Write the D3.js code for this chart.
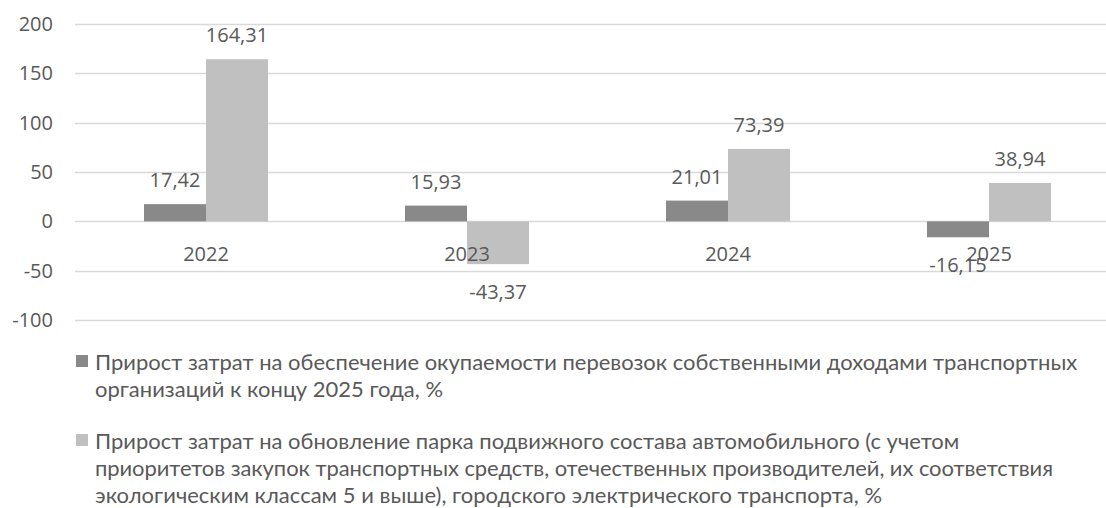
<!DOCTYPE html>
<html><head><meta charset="utf-8">
<script src="https://cdn.jsdelivr.net/npm/d3@7"></script>
<style>body{margin:0;background:#fff;overflow:hidden}</style>
</head><body>
<svg id="c" width="1106" height="508"></svg>
<script>
const categories = ["2022","2023","2024","2025"];
const series1Name = ["Прирост затрат на обеспечение окупаемости перевозок собственными доходами транспортных","организаций к концу 2025 года, %"];
const series2Name = ["Прирост затрат на обновление парка подвижного состава автомобильного (с учетом","приоритетов закупок транспортных средств, отечественных производителей, их соответствия","экологическим классам 5 и выше), городского электрического транспорта, %"];
const series1 = [17.42, 15.93, 21.01, -16.15];
const series2 = [164.31, -43.37, 73.39, 38.94];
const yTicks = [-100, -50, 0, 50, 100, 150, 200];

const colors = ["#898989", "#c0c0c0"];
const textColor = "#595959";
const svg = d3.select("#c");
const axisFont = "'Open Sans', 'Noto Sans', sans-serif";
const legendFont = "Lato, 'Noto Sans', sans-serif";
const axisSize = 20;

const x0 = d3.scaleBand().domain(categories).range([75.5, 1119.5]).padding(0);
const step = x0.bandwidth();
const x1 = d3.scaleBand().domain([0,1]).range([(step-124)/2, (step+124)/2]).padding(0);
const y = d3.scaleLinear().domain([-100, 200]).range([320, 24]);

// gridlines
svg.append("g").selectAll("line").data(yTicks).join("line")
  .attr("x1", 75).attr("x2", 1119.5)
  .attr("y1", d => Math.round(y(d)) + 0.5).attr("y2", d => Math.round(y(d)) + 0.5)
  .attr("stroke", "#d9d9d9").attr("stroke-width", 1.3);

// y tick labels
svg.append("g").selectAll("text").data(yTicks).join("text")
  .attr("x", 53).attr("y", d => y(d)).attr("dy", "0.35em")
  .attr("text-anchor", "end").attr("font-family", axisFont).attr("font-size", axisSize)
  .attr("fill", textColor).text(d => d);

const data = categories.map((c, i) => ({c, vals: [series1[i], series2[i]]}));
const g = svg.append("g").selectAll("g").data(data).join("g")
  .attr("transform", d => `translate(${x0(d.c)},0)`);

g.selectAll("rect").data(d => d.vals.map((v, s) => ({v, s}))).join("rect")
  .attr("x", d => x1(d.s)).attr("width", x1.bandwidth())
  .attr("y", d => y(Math.max(0, d.v))).attr("height", d => Math.abs(y(d.v) - y(0)))
  .attr("fill", d => colors[d.s]);

// category labels
svg.append("g").selectAll("text").data(categories).join("text")
  .attr("x", d => x0(d) + step/2).attr("y", y(0) + 33).attr("dy", "0.35em")
  .attr("text-anchor", "middle").attr("font-family", axisFont).attr("font-size", axisSize)
  .attr("fill", textColor).text(d => d);

// data labels
g.selectAll("text.lbl").data(d => d.vals.map((v, s) => ({v, s}))).join("text")
  .attr("class", "lbl")
  .attr("x", d => x1(d.s) + x1.bandwidth()/2)
  .attr("y", d => d.v >= 0 ? y(d.v) - 24 : y(d.v) + 28).attr("dy", "0.35em")
  .attr("text-anchor", "middle").attr("font-family", axisFont).attr("font-size", axisSize)
  .attr("fill", textColor).text(d => d3.format(".2f")(d.v).replace(".", ",").replace("−","-"));

// legend
const legend = [
  {lines: series1Name, color: colors[0], y0: 362, ends: [1078, 443]},
  {lines: series2Name, color: colors[1], y0: 441, ends: [963, 1053, 882]}
];
const lg = svg.append("g").selectAll("g").data(legend).join("g");
lg.append("rect").attr("x", 76).attr("y", d => d.y0 - 7).attr("width", 12).attr("height", 12)
  .attr("fill", d => d.color);
lg.each(function(d) {
  d3.select(this).selectAll("text").data(d.lines.map((t, i) => ({t, i, end: d.ends[i]}))).join("text")
    .attr("x", 95).attr("y", e => d.y0 + e.i * 27).attr("dy", "0.35em")
    .attr("font-family", legendFont).attr("font-size", 20).attr("fill", textColor)
    .text(e => e.t);
});
// fit legend font size so the first line spans the same width as in the reference
const first = lg.select("text").node();
const w = first.getComputedTextLength();
const fs = Math.min(24, Math.max(16, 20 * 983 / w));
lg.selectAll("text").attr("font-size", fs)
  .attr("textLength", e => e.end - 95).attr("lengthAdjust", "spacing");
</script>
</body></html>
